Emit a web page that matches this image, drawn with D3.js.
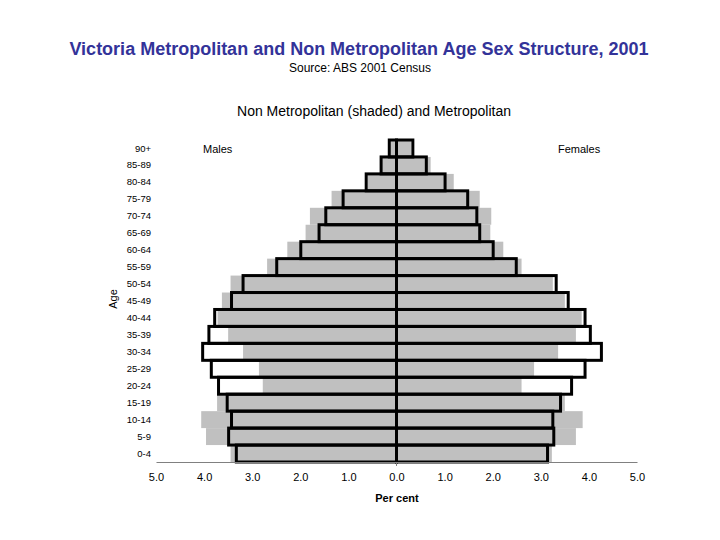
<!DOCTYPE html>
<html>
<head>
<meta charset="utf-8">
<script src="https://cdn.jsdelivr.net/npm/d3@7"></script>
<style>
  body { margin: 0; background: #fff; }
  svg { font-family: "Liberation Sans", Arial, sans-serif; }
</style>
</head>
<body>
<svg id="chart" width="720" height="540"></svg>
<script>
// age groups, top to bottom
const ageGroups = ['90+', '85-89', '80-84', '75-79', '70-74', '65-69', '60-64', '55-59', '50-54',
  '45-49', '40-44', '35-39', '30-34', '25-29', '20-24', '15-19', '10-14', '5-9', '0-4'];

// per cent of population
const metroMales     = [0.15, 0.32, 0.63, 1.11, 1.47, 1.61, 1.99, 2.49, 3.19, 3.43, 3.78, 3.90, 4.03, 3.85, 3.70, 3.52, 3.43, 3.49, 3.33];
const metroFemales   = [0.34, 0.62, 1.01, 1.48, 1.67, 1.73, 2.01, 2.49, 3.32, 3.57, 3.92, 4.03, 4.26, 3.92, 3.64, 3.41, 3.25, 3.27, 3.14];
const nonMetroMales  = [0.12, 0.30, 0.60, 1.35, 1.80, 1.89, 2.27, 2.69, 3.45, 3.63, 3.72, 3.50, 3.19, 2.86, 2.78, 3.73, 4.06, 3.96, 3.45];
const nonMetroFemales= [0.30, 0.71, 1.19, 1.73, 1.97, 1.95, 2.22, 2.60, 3.25, 3.50, 3.85, 3.73, 3.36, 2.86, 2.60, 3.50, 3.87, 3.73, 3.23];

const xTicks = [-5, -4, -3, -2, -1, 0, 1, 2, 3, 4, 5];

const svg = d3.select('#chart');

const x = d3.scaleLinear().domain([-5, 5]).range([156, 637]);
const y = d3.scaleBand().domain(ageGroups).range([140, 462]).padding(0);

// titles
svg.append('text')
  .attr('x', 359).attr('y', 55)
  .attr('text-anchor', 'middle')
  .attr('font-size', 18).attr('font-weight', 'bold')
  .attr('fill', '#333399')
  .text('Victoria Metropolitan and Non Metropolitan Age Sex Structure, 2001');

svg.append('text')
  .attr('x', 360).attr('y', 72)
  .attr('text-anchor', 'middle')
  .attr('font-size', 12)
  .text('Source: ABS 2001 Census');

svg.append('text')
  .attr('x', 374).attr('y', 116)
  .attr('text-anchor', 'middle')
  .attr('font-size', 14)
  .text('Non Metropolitan (shaded) and Metropolitan');

// shaded non metropolitan bars
const shaded = svg.append('g').attr('fill', '#c0c0c0');
shaded.selectAll('.nm-m')
  .data(ageGroups)
  .enter().append('rect')
  .attr('x', (d, i) => x(-nonMetroMales[i]))
  .attr('y', d => y(d))
  .attr('width', (d, i) => x(0) - x(-nonMetroMales[i]))
  .attr('height', y.bandwidth());
shaded.selectAll('.nm-f')
  .data(ageGroups)
  .enter().append('rect')
  .attr('x', x(0))
  .attr('y', d => y(d))
  .attr('width', (d, i) => x(nonMetroFemales[i]) - x(0))
  .attr('height', y.bandwidth());

// metropolitan outlines
const outline = svg.append('g').attr('fill', 'none').attr('stroke', '#000').attr('stroke-width', 3);
outline.selectAll('.m-m')
  .data(ageGroups)
  .enter().append('rect')
  .attr('x', (d, i) => x(-metroMales[i]))
  .attr('y', d => y(d))
  .attr('width', (d, i) => x(0) - x(-metroMales[i]))
  .attr('height', y.bandwidth());
outline.selectAll('.m-f')
  .data(ageGroups)
  .enter().append('rect')
  .attr('x', x(0))
  .attr('y', d => y(d))
  .attr('width', (d, i) => x(metroFemales[i]) - x(0))
  .attr('height', y.bandwidth());

// x axis
const xAxis = svg.append('g')
  .attr('transform', 'translate(0,462)')
  .call(d3.axisBottom(x).tickValues(xTicks).tickSize(0).tickPadding(11)
    .tickFormat(d => Math.abs(d).toFixed(1)));
xAxis.select('.domain').attr('stroke', '#808080').attr('stroke-width', 1.2);
xAxis.selectAll('text').attr('font-size', 11).attr('fill', '#000');
xAxis.append('line')
  .attr('x1', x(0)).attr('x2', x(0))
  .attr('y1', 0).attr('y2', 4)
  .attr('stroke', '#808080');

svg.append('text')
  .attr('x', 397).attr('y', 502)
  .attr('text-anchor', 'middle')
  .attr('font-size', 11).attr('font-weight', 'bold')
  .text('Per cent');

// y axis labels
const yAxis = svg.append('g')
  .attr('transform', 'translate(151,0)')
  .call(d3.axisLeft(y).tickSize(0).tickPadding(0));
yAxis.select('.domain').remove();
yAxis.selectAll('text').attr('font-size', 9.5).attr('fill', '#000');

svg.append('text')
  .attr('transform', 'translate(117,299) rotate(-90)')
  .attr('text-anchor', 'middle')
  .attr('font-size', 11)
  .text('Age');

// sex labels
svg.append('text')
  .attr('x', 203).attr('y', 153)
  .attr('font-size', 11)
  .text('Males');
svg.append('text')
  .attr('x', 558).attr('y', 153)
  .attr('font-size', 11)
  .text('Females');
</script>
</body>
</html>
